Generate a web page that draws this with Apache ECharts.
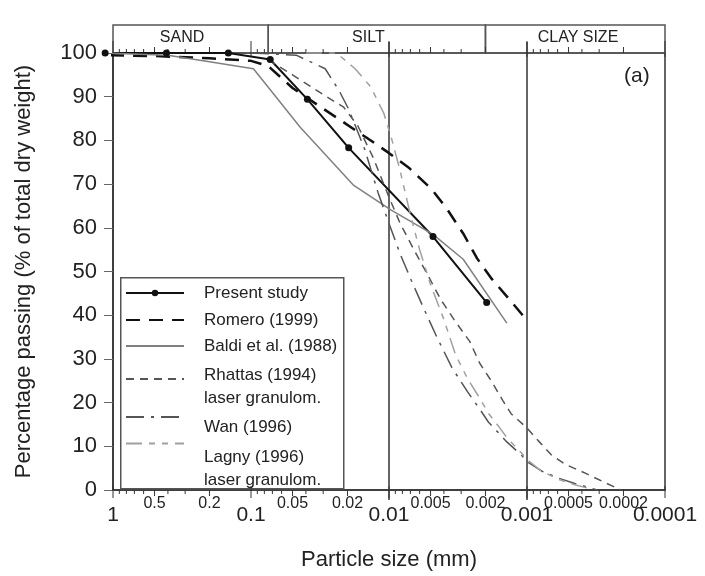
<!DOCTYPE html>
<html><head><meta charset="utf-8">
<script src="https://cdn.jsdelivr.net/npm/echarts@6/dist/echarts.min.js"></script>
<style>html,body{margin:0;padding:0;background:#fff}#c{width:705px;height:576px}</style>
</head><body><div id="c"></div>
<script>
// ---- data ----
const xMajorLabels = ['1', '0.1', '0.01', '0.001', '0.0001'];
const xMinorLabels = ['0.5', '0.2', '0.05', '0.02', '0.005', '0.002', '0.0005', '0.0002'];
const minorMultipliers = [2, 3, 4, 5, 6, 7, 8, 9];
const decades = [0.1, 0.01, 0.001, 0.0001];
const boundaryLines = [0.01, 0.001];
const bandNames = ['SAND', 'SILT', 'CLAY SIZE'];
const bandEdges = [1, 0.075, 0.002, 0.0001];
const bandLabelAt = [0.316, 0.0141, 0.000427];

const presentStudy = [[1.14,100],[0.41,100],[0.146,100],[0.0726,98.5],[0.039,89.4],[0.0196,78.3],[0.0048,58],[0.00196,42.9]];
const romero = [[1.05,99.5],[0.5,99.3],[0.2,98.8],[0.1,98.2],[0.075,97],[0.05,92],[0.0325,88],[0.0145,80.6],[0.0101,77.2],[0.0071,73.6],[0.0049,68.8],[0.0038,64.3],[0.0029,58.7],[0.0023,53],[0.0018,48.3],[0.0013,43.1],[0.001,38.8]];
const baldi = [[1.14,100],[0.4,99.5],[0.2,98],[0.096,96.4],[0.044,83],[0.018,69.7],[0.0097,64.1],[0.0048,58.5],[0.0029,52.8],[0.0014,38.2]];
const rhattas = [[0.075,98.5],[0.05,95],[0.03,90.5],[0.0213,87.6],[0.0168,83.3],[0.013,76],[0.01,67],[0.0083,61],[0.0066,55],[0.0052,49],[0.0042,43.5],[0.0033,38.5],[0.0026,34],[0.0022,29],[0.0018,24.8],[0.0015,20.5],[0.0013,17.4],[0.001,14.2],[0.00083,11.3],[0.00067,8.1],[0.00053,5.9],[0.000375,3.8],[0.000277,1.8],[0.000208,0]];
const wan = [[0.1,100],[0.047,99.5],[0.029,96.4],[0.023,91.4],[0.0195,87],[0.015,78],[0.012,68],[0.01,61],[0.0083,54],[0.0069,48],[0.0055,41],[0.0045,35],[0.0035,28],[0.0027,22.5],[0.0022,18.5],[0.0019,15.5],[0.0016,13],[0.0014,11],[0.0011,8],[0.001,6.5],[0.00078,4.3],[0.00059,2.7],[0.00045,1.5],[0.00031,0]];
const lagny = [[0.04,100],[0.024,100],[0.0176,96.4],[0.0136,92.3],[0.0109,86.2],[0.0095,80],[0.0083,73],[0.007,63],[0.006,55],[0.005,47],[0.004,39],[0.0033,31],[0.0027,25.5],[0.0022,21],[0.0019,17.5],[0.0016,14.5],[0.0014,12],[0.0011,8.5],[0.001,7],[0.0008,4.5],[0.0006,2.5],[0.00045,1.2],[0.00035,0.3]];

// ---- build ----
const FONT = 'Liberation Sans, Arial, sans-serif';
const INK = '#222';
const minorTicks = [];
decades.forEach(d => minorMultipliers.forEach(m => minorTicks.push([+(m * d).toPrecision(3), 0])));
const majorTicks = xMajorLabels.map(s => [parseFloat(s), 0]);
const minorLabelVals = xMinorLabels.map(s => parseFloat(s));
const majorMap = {};
xMajorLabels.forEach(s => { majorMap[Math.round(Math.log10(parseFloat(s)))] = s; });

function tickItem(params, api) {
  const v = api.value(0);
  const b = api.coord([v, 0]);
  const t = api.coord([v, 100]);
  const major = params.seriesName === 'majorTicks';
  const idx = minorLabelVals.findIndex(x => Math.abs(x - v) / v < 1e-6);
  const lbl = idx >= 0;
  const len = major ? 8 : (lbl ? 6 : 4);
  const st = { stroke: '#333', lineWidth: 1 };
  const children = [
    { type: 'line', shape: { x1: b[0], y1: b[1] - (major ? 4 : 0), x2: b[0], y2: b[1] + len }, style: st },
    { type: 'line', shape: { x1: t[0], y1: t[1] + (major ? 4 : 0), x2: t[0], y2: t[1] - len - (major ? 4 : 0) }, style: st }
  ];
  if (lbl) {
    children.push({ type: 'text', x: b[0], y: b[1] + 6, style: { text: xMinorLabels[idx], font: '16px ' + FONT, fill: INK, align: 'center', verticalAlign: 'top' } });
  }
  return { type: 'group', children };
}

const seriesStyles = [
  { name: 'Present study', data: presentStudy, color: '#111', width: 2, type: 'solid', symbol: 'circle', size: 7 },
  { name: 'Romero (1999)', data: romero, color: '#111', width: 2.5, type: [14, 9] },
  { name: 'Baldi et al. (1988)', data: baldi, color: '#808080', width: 1.5, type: 'solid' },
  { name: 'Rhattas (1994)', data: rhattas, color: '#555', width: 1.5, type: [8, 6] },
  { name: 'Wan (1996)', data: wan, color: '#555', width: 1.5, type: [18, 7, 3, 7] },
  { name: 'Lagny (1996)', data: lagny, color: '#a0a0a0', width: 1.5, type: [16, 7, 6, 7, 6, 7] }
];
const legendLines = {
  'Rhattas (1994)': ['Rhattas (1994)', 'laser granulom.'],
  'Lagny (1996)': ['Lagny (1996)', 'laser granulom.']
};
// top of each legend block and spacer height that pushes text below the icon
const legendPlace = [
  { top: 284.5, gap: 0 }, { top: 311.5, gap: 0 }, { top: 337.5, gap: 0 },
  { top: 355, gap: 15 }, { top: 404.5, gap: 20 }, { top: 419.5, gap: 50 }
];

const lineSeries = seriesStyles.map(s => ({
  name: s.name, type: 'line', data: s.data, clip: false, z: 5,
  symbol: s.symbol || 'none', symbolSize: s.size || 0, showSymbol: !!s.symbol,
  itemStyle: { color: s.color },
  lineStyle: { color: s.color, width: s.width, type: s.type },
  emphasis: { disabled: true }, silent: true, animation: false
}));

const legends = seriesStyles.map((s, i) => {
  const gap = legendPlace[i].gap;
  return {
    left: 125, top: legendPlace[i].top, padding: 0, orient: 'vertical',
    itemWidth: 58, itemHeight: 8, selectedMode: false,
    data: [s.name],
    itemStyle: s.symbol ? {} : { opacity: 0 },
    formatter: n => {
      const lines = (legendLines[n] || [n]).map(t => '{t|' + t + '}');
      return (gap ? '{g| }\n' : '') + lines.join('\n');
    },
    textStyle: { fontFamily: FONT, fontSize: 17, color: INK, padding: [0, 0, 0, 15],
      rich: { t: { fontFamily: FONT, fontSize: 17, color: INK, lineHeight: 23 },
              g: { fontSize: 2, lineHeight: gap || 1 } } }
  };
});

const chart = echarts.init(document.getElementById('c'), null, { renderer: 'canvas' });
chart.setOption({
  animation: false,
  backgroundColor: '#fff',
  grid: { left: 113, right: 40, top: 53, bottom: 79, show: true, borderColor: '#333', borderWidth: 1.5, containLabel: false },
  legend: legends,
  xAxis: {
    type: 'log', logBase: 10, min: 0.0001, max: 1, inverse: true,
    name: 'Particle size (mm)', nameLocation: 'middle', nameGap: 59,
    nameTextStyle: { fontFamily: FONT, fontSize: 22, color: INK },
    axisLine: { show: true, lineStyle: { color: '#333', width: 1.5 } },
    axisTick: { show: false },
    splitLine: { show: false },
    axisLabel: { fontFamily: FONT, fontSize: 21, color: INK, margin: 15,
      formatter: v => majorMap[Math.round(Math.log10(v))] || '' }
  },
  yAxis: {
    type: 'value', min: 0, max: 100, interval: 10,
    name: 'Percentage passing (% of total dry weight)', nameLocation: 'middle', nameGap: 78,
    nameTextStyle: { fontFamily: FONT, fontSize: 22, color: INK },
    axisLine: { show: true, lineStyle: { color: '#333', width: 1.5 } },
    axisTick: { show: true, length: 9, lineStyle: { color: '#666', width: 1 } },
    splitLine: { show: false },
    axisLabel: { fontFamily: FONT, fontSize: 22, color: INK, margin: 16 }
  },
  graphic: [
    { type: 'rect', left: 120, top: 277, shape: { width: 223, height: 211 }, style: { fill: '#fff', stroke: '#555', lineWidth: 1.5 }, z: 3 },
    { type: 'text', left: 624, top: 66, style: { text: '(a)', font: '21px ' + FONT, fill: INK }, z: 10 }
  ],
  series: [
    { name: 'band', type: 'custom', silent: true, clip: false, z: 2,
      data: bandNames.map((n, i) => [bandEdges[i], bandEdges[i + 1], bandLabelAt[i], 100]),
      encode: { x: [0, 1, 2], y: 3 },
      renderItem: (params, api) => {
        const a = api.coord([api.value(0), 100]);
        const b = api.coord([api.value(1), 100]);
        const c = api.coord([api.value(2), 100]);
        return { type: 'group', children: [
          { type: 'rect', shape: { x: a[0], y: a[1] - 28, width: b[0] - a[0], height: 28 }, style: { fill: 'none', stroke: '#555', lineWidth: 1.5 } },
          { type: 'text', x: c[0], y: a[1] - 15, style: { text: bandNames[params.dataIndex], font: '16px ' + FONT, fill: INK, align: 'center', verticalAlign: 'middle' } }
        ] };
      } },
    { name: 'bounds', type: 'custom', silent: true, clip: false, z: 4,
      data: boundaryLines.map(v => [v, 0]),
      renderItem: (params, api) => {
        const b = api.coord([api.value(0), 0]);
        const t = api.coord([api.value(0), 100]);
        return { type: 'line', shape: { x1: b[0], y1: b[1] + 10, x2: t[0], y2: t[1] - 11 }, style: { stroke: '#333', lineWidth: 1.5 } };
      } },
    { name: 'minorTicks', type: 'custom', silent: true, clip: false, z: 4, data: minorTicks, renderItem: tickItem },
    { name: 'majorTicks', type: 'custom', silent: true, clip: false, z: 4, data: majorTicks, renderItem: tickItem },
    ...lineSeries
  ]
});
</script></body></html>
